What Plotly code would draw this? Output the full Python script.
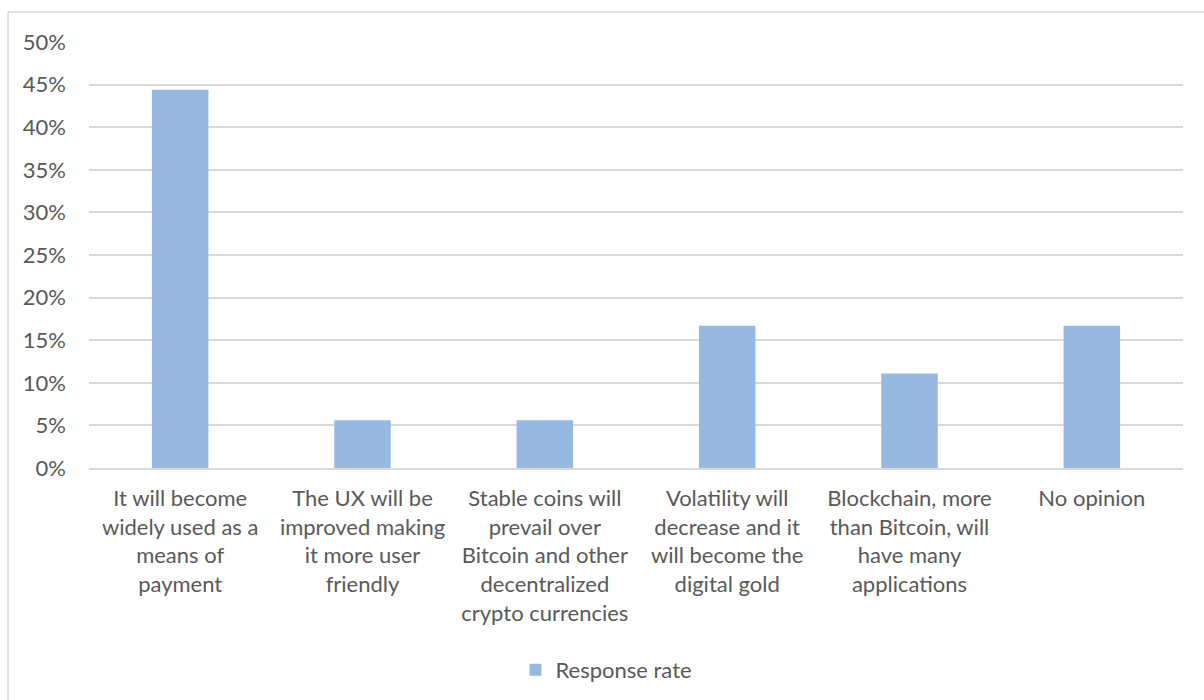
import plotly.graph_objects as go

categories = [
    "It will become<br>widely used as a<br>means of<br>payment",
    "The UX will be<br>improved making<br>it more user<br>friendly",
    "Stable coins will<br>prevail over<br>Bitcoin and other<br>decentralized<br>crypto currencies",
    "Volatility will<br>decrease and it<br>will become the<br>digital gold",
    "Blockchain, more<br>than Bitcoin, will<br>have many<br>applications",
    "No opinion",
]
response_rate = [0.444, 0.056, 0.056, 0.167, 0.111, 0.167]
y_ticks = [0, 0.05, 0.10, 0.15, 0.20, 0.25, 0.30, 0.35, 0.40, 0.45, 0.50]
y_tick_labels = ["0%", "5%", "10%", "15%", "20%", "25%", "30%", "35%", "40%", "45%", "50%"]

FONT = "Lato, 'Open Sans', sans-serif"
TEXT = "#595959"
GRID = "#d9d9d9"
FS = 22

fig = go.Figure()
fig.add_trace(go.Bar(
    x=categories,
    y=response_rate,
    name="Response rate",
    marker=dict(color="#97b9e0", line=dict(width=0)),
    width=0.31,
    showlegend=True,
))

fig.update_layout(
    width=1204,
    height=700,
    margin=dict(l=89, r=21, t=42, b=232, autoexpand=False),
    paper_bgcolor="white",
    plot_bgcolor="white",
    font=dict(family=FONT, size=FS, color=TEXT),
    showlegend=True,
    legend=dict(
        orientation="h",
        x=0.473, xanchor="center",
        yref="container",
        y=0.043, yanchor="middle",
        font=dict(family=FONT, size=FS, color=TEXT),
        itemwidth=30,
    ),
    shapes=[
        dict(type="rect", xref="paper", yref="paper",
             x0=-0.074, y0=-0.6, x1=1.1, y1=1.0704,
             line=dict(color=GRID, width=1.5), fillcolor="rgba(0,0,0,0)",
             layer="below"),
    ],
)

fig.update_xaxes(
    showgrid=False,
    showline=True,
    linecolor=GRID,
    linewidth=1.5,
    ticks="",
    tickfont=dict(family=FONT, size=FS, color=TEXT),
    ticklabelstandoff=10,
)
fig.update_yaxes(
    range=[0, 0.5],
    tickvals=y_ticks,
    ticktext=y_tick_labels,
    showgrid=True,
    gridcolor=GRID,
    gridwidth=1.5,
    zeroline=False,
    showline=False,
    ticks="",
    tickfont=dict(family=FONT, size=FS, color=TEXT),
    ticklabelstandoff=22,
)

fig.write_html("out.html")
